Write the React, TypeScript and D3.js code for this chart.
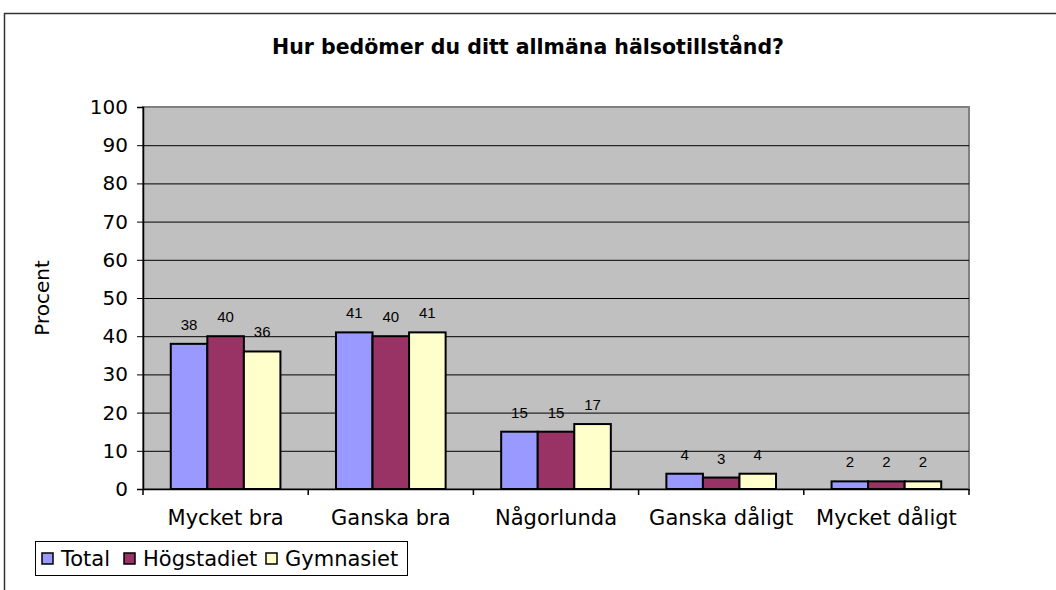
import { useEffect, useRef } from "react"
import * as d3 from "d3"

const title = "Hur bedömer du ditt allmäna hälsotillstånd?"
const categories = ["Mycket bra", "Ganska bra", "Någorlunda", "Ganska dåligt", "Mycket dåligt"]
const seriesNames = ["Total", "Högstadiet", "Gymnasiet"]
const total = [38, 41, 15, 4, 2]
const hogstadiet = [40, 40, 15, 3, 2]
const gymnasiet = [36, 41, 17, 4, 2]
const yTicks = [0, 10, 20, 30, 40, 50, 60, 70, 80, 90, 100]
const colors = ["#9999FF", "#993366", "#FFFFCC"]

const font = "'DejaVu Sans', Verdana, sans-serif"

const App = () => {
    const ref = useRef<SVGSVGElement>(null)

    useEffect(() => {
        const svg = d3.select(ref.current)
        svg.selectAll("*").remove()

        const left = 143
        const right = 969
        const top = 107
        const bottom = 489
        const series = [total, hogstadiet, gymnasiet]

        // outer chart frame
        svg.append("rect")
            .attr("x", 4.5).attr("y", 13.5)
            .attr("width", 1100).attr("height", 700)
            .attr("fill", "white").attr("stroke", "#333").attr("stroke-width", 1.5)

        svg.append("text")
            .attr("x", 528).attr("y", 54)
            .attr("text-anchor", "middle")
            .attr("font-family", font).attr("font-weight", "bold").attr("font-size", 20.5)
            .text(title)

        const x = d3.scaleBand().domain(categories).range([left, right]).paddingInner(0).paddingOuter(0)
        const x1 = d3.scaleBand().domain(seriesNames).range([0, x.bandwidth()]).paddingOuter(0.76).paddingInner(0)
        const y = d3.scaleLinear().domain([0, 100]).range([bottom, top])

        svg.append("rect")
            .attr("x", left).attr("y", top)
            .attr("width", right - left).attr("height", bottom - top)
            .attr("fill", "#c0c0c0").attr("stroke", "#808080").attr("stroke-width", 2)

        // gridlines
        svg.append("g").selectAll("line")
            .data(yTicks.filter(t => t > 0 && t < 100))
            .join("line")
            .attr("x1", left).attr("x2", right)
            .attr("y1", d => y(d) + 0.5).attr("y2", d => y(d) + 0.5)
            .attr("stroke", "black").attr("stroke-width", 1)

        // bars
        series.forEach((vals, si) => {
            const g = svg.append("g")
            g.selectAll("rect")
                .data(vals)
                .join("rect")
                .attr("x", (d, i) => x(categories[i])! + x1(seriesNames[si])!)
                .attr("y", d => y(d))
                .attr("width", x1.bandwidth())
                .attr("height", d => bottom - y(d))
                .attr("fill", colors[si])
                .attr("stroke", "black").attr("stroke-width", 2)
            g.selectAll("text")
                .data(vals)
                .join("text")
                .attr("x", (d, i) => x(categories[i])! + x1(seriesNames[si])! + x1.bandwidth() / 2)
                .attr("y", d => y(d) - 14)
                .attr("text-anchor", "middle")
                .attr("font-family", "'Liberation Sans', Arial, sans-serif").attr("font-size", 15)
                .text(d => d)
        })

        // axes
        const yAxis = svg.append("g")
            .attr("transform", `translate(${left},0)`)
            .call(d3.axisLeft(y).tickValues(yTicks).tickSize(6).tickPadding(9))
        yAxis.select(".domain").attr("stroke", "black").attr("stroke-width", 1.5)
        yAxis.selectAll("text").attr("font-family", font).attr("font-size", 20).attr("fill", "black")

        const xAxis = svg.append("g")
            .attr("transform", `translate(0,${bottom})`)
            .call(d3.axisBottom(x).tickSize(0).tickPadding(21))
        xAxis.select(".domain").attr("stroke", "black").attr("stroke-width", 1.5)
        xAxis.selectAll("text").attr("font-family", font).attr("font-size", 21).attr("fill", "black")
        svg.append("g").selectAll("line")
            .data(d3.range(categories.length + 1))
            .join("line")
            .attr("x1", i => left + i * x.step()).attr("x2", i => left + i * x.step())
            .attr("y1", bottom).attr("y2", bottom + 6)
            .attr("stroke", "black").attr("stroke-width", 1.5)

        svg.append("text")
            .attr("transform", `translate(49,${(top + bottom) / 2}) rotate(-90)`)
            .attr("text-anchor", "middle")
            .attr("font-family", font).attr("font-size", 20)
            .text("Procent")

        // legend
        const legend = svg.append("g")
        legend.append("rect")
            .attr("x", 35.5).attr("y", 541.5).attr("width", 372).attr("height", 34)
            .attr("fill", "white").attr("stroke", "black").attr("stroke-width", 1)
        const offsets = [42, 124, 266]
        seriesNames.forEach((name, i) => {
            legend.append("rect")
                .attr("x", offsets[i]).attr("y", 553).attr("width", 11).attr("height", 11)
                .attr("fill", colors[i]).attr("stroke", "black").attr("stroke-width", 1.5)
            legend.append("text")
                .attr("x", offsets[i] + 19).attr("y", 566)
                .attr("font-family", font).attr("font-size", 21)
                .text(name)
        })
    }, [])

    return (
        <svg ref={ref} width={1056} height={590} style={{ position: "absolute", left: 0, top: 0 }} />
    )
}

export default App
